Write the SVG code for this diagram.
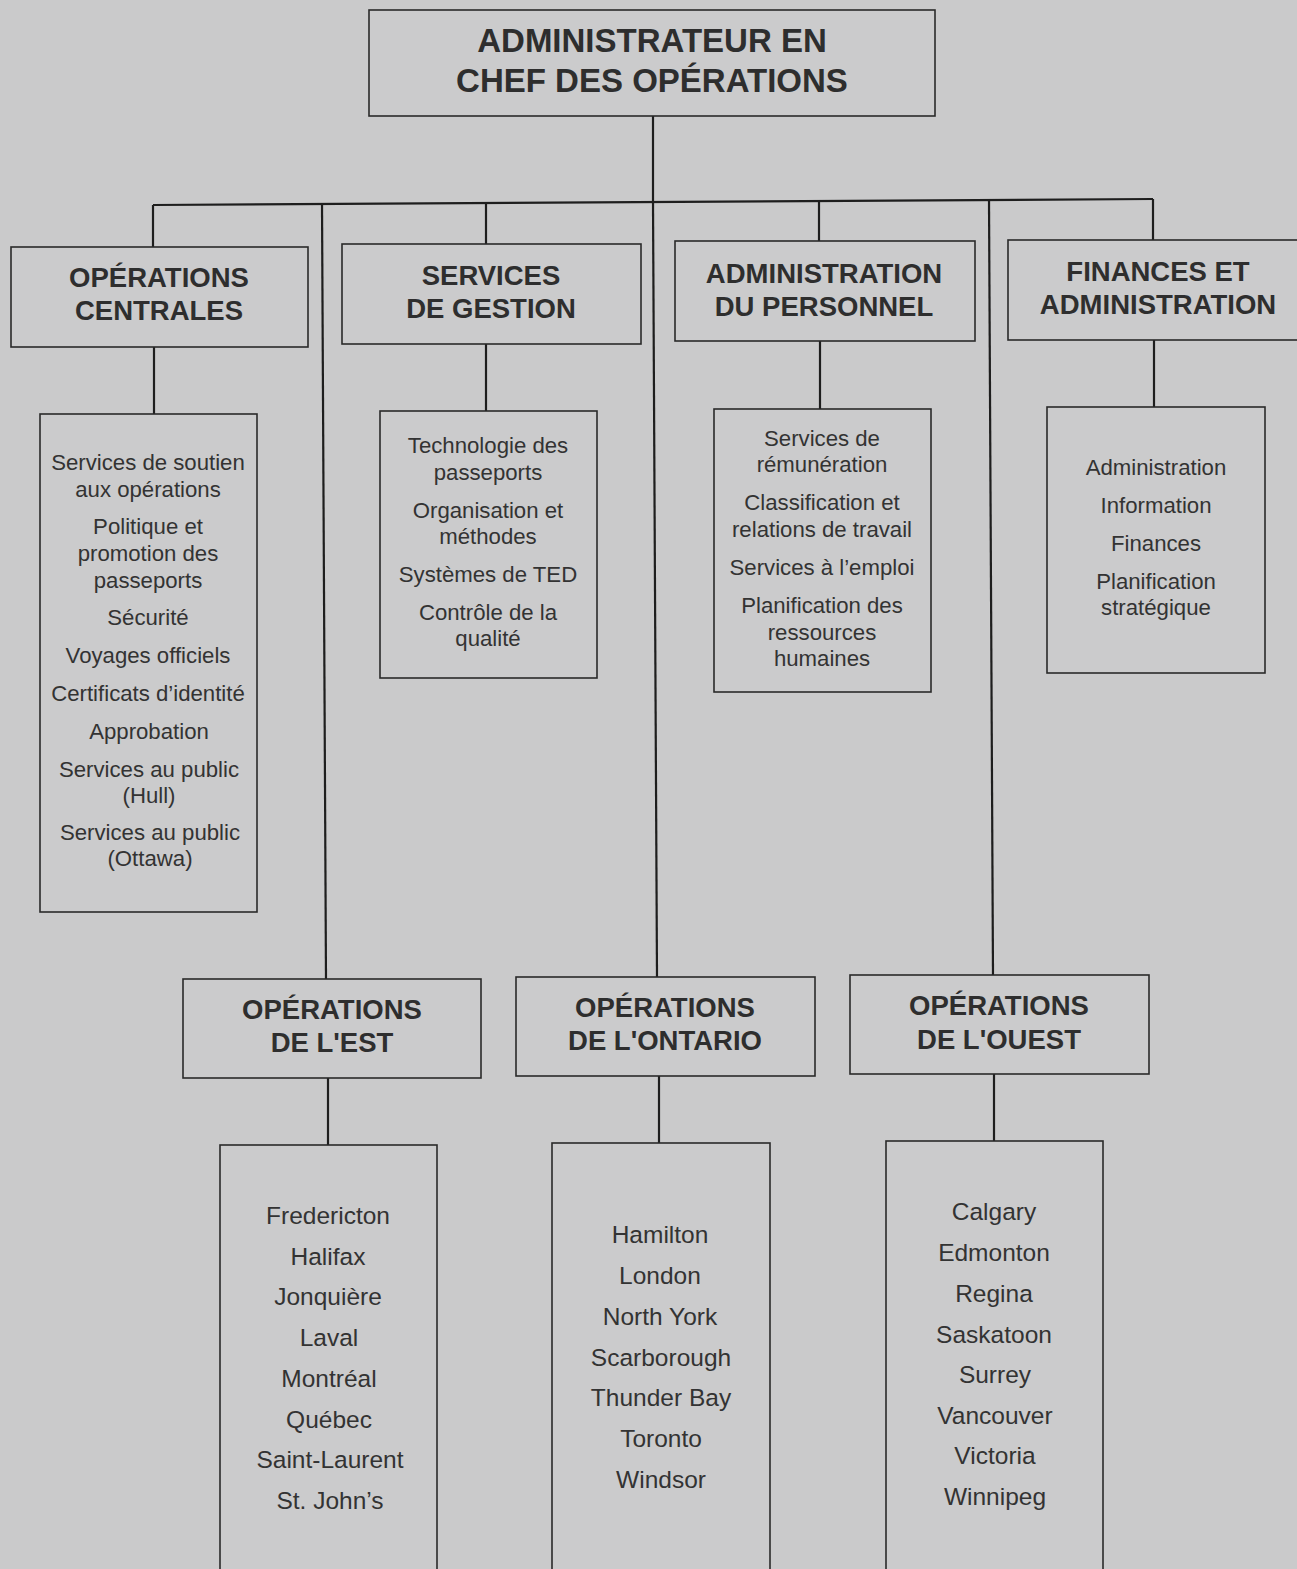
<svg xmlns="http://www.w3.org/2000/svg" width="1297" height="1569" viewBox="0 0 1297 1569">
<style>
.bg{fill:#cacacb}
.box{fill:#cbcbcc;stroke:#2a2a2a;stroke-width:1.6}
.ln{stroke:#1e1e1e;stroke-width:2.2;fill:none}
.h{font-family:"Liberation Sans",Arial,sans-serif;font-weight:bold;font-size:27.5px;fill:#2e2e2e;text-anchor:middle}
.ht{font-family:"Liberation Sans",Arial,sans-serif;font-weight:bold;font-size:33px;fill:#2e2e2e;text-anchor:middle}
.t{font-family:"Liberation Sans",Arial,sans-serif;font-size:22.2px;fill:#333;text-anchor:middle}
.c{font-family:"Liberation Sans",Arial,sans-serif;font-size:24.5px;fill:#333;text-anchor:middle}
</style>
<rect class="bg" x="0" y="0" width="1297" height="1569"/>
<g id="connectors">
<line class="ln" x1="653" y1="116" x2="653" y2="202"/>
<line class="ln" x1="153" y1="205" x2="1153" y2="199"/>
<line class="ln" x1="153" y1="205" x2="153" y2="247"/>
<line class="ln" x1="486" y1="203" x2="486" y2="244"/>
<line class="ln" x1="819" y1="201" x2="819" y2="241"/>
<line class="ln" x1="1153" y1="199" x2="1153" y2="240"/>
<line class="ln" x1="322" y1="204" x2="326" y2="979"/>
<line class="ln" x1="653" y1="202" x2="657" y2="977"/>
<line class="ln" x1="989" y1="200" x2="993" y2="975"/>
<line class="ln" x1="154" y1="347" x2="154" y2="414"/>
<line class="ln" x1="486" y1="344" x2="486" y2="411"/>
<line class="ln" x1="820" y1="341" x2="820" y2="409"/>
<line class="ln" x1="1154" y1="340" x2="1154" y2="407"/>
<line class="ln" x1="328" y1="1078" x2="328" y2="1145"/>
<line class="ln" x1="659" y1="1076" x2="659" y2="1143"/>
<line class="ln" x1="994" y1="1074" x2="994" y2="1141"/>
</g>
<g id="chef">
<rect class="box" x="369" y="10" width="566" height="106"/>
<text class="ht" x="652" y="52">ADMINISTRATEUR EN</text>
<text class="ht" x="652" y="92">CHEF DES OPÉRATIONS</text>
</g>
<g id="op-centrales">
<rect class="box" x="11" y="247" width="297" height="100"/>
<text class="h" x="159" y="287">OPÉRATIONS</text>
<text class="h" x="159" y="320">CENTRALES</text>
</g>
<g id="services-gestion">
<rect class="box" x="342" y="244" width="299" height="100"/>
<text class="h" x="491" y="285">SERVICES</text>
<text class="h" x="491" y="318">DE GESTION</text>
</g>
<g id="admin-personnel">
<rect class="box" x="675" y="241" width="300" height="100"/>
<text class="h" x="824" y="283">ADMINISTRATION</text>
<text class="h" x="824" y="316">DU PERSONNEL</text>
</g>
<g id="finances-admin">
<rect class="box" x="1008" y="240" width="292" height="100"/>
<text class="h" x="1158" y="281">FINANCES ET</text>
<text class="h" x="1158" y="314">ADMINISTRATION</text>
</g>
<g id="list-centrales">
<rect class="box" x="40" y="414" width="217" height="498"/>
<text class="t" x="148" y="470">Services de soutien</text>
<text class="t" x="148" y="497">aux opérations</text>
<text class="t" x="148" y="534">Politique et</text>
<text class="t" x="148" y="561">promotion des</text>
<text class="t" x="148" y="588">passeports</text>
<text class="t" x="148" y="625">Sécurité</text>
<text class="t" x="148" y="663">Voyages officiels</text>
<text class="t" x="148" y="701">Certificats d’identité</text>
<text class="t" x="149" y="739">Approbation</text>
<text class="t" x="149" y="777">Services au public</text>
<text class="t" x="149" y="803">(Hull)</text>
<text class="t" x="150" y="840">Services au public</text>
<text class="t" x="150" y="866">(Ottawa)</text>
</g>
<g id="list-gestion">
<rect class="box" x="380" y="411" width="217" height="267"/>
<text class="t" x="488" y="453">Technologie des</text>
<text class="t" x="488" y="480">passeports</text>
<text class="t" x="488" y="518">Organisation et</text>
<text class="t" x="488" y="544">méthodes</text>
<text class="t" x="488" y="582">Systèmes de TED</text>
<text class="t" x="488" y="620">Contrôle de la</text>
<text class="t" x="488" y="646">qualité</text>
</g>
<g id="list-personnel">
<rect class="box" x="714" y="409" width="217" height="283"/>
<text class="t" x="822" y="446">Services de</text>
<text class="t" x="822" y="472">rémunération</text>
<text class="t" x="822" y="510">Classification et</text>
<text class="t" x="822" y="537">relations de travail</text>
<text class="t" x="822" y="575">Services à l’emploi</text>
<text class="t" x="822" y="613">Planification des</text>
<text class="t" x="822" y="640">ressources</text>
<text class="t" x="822" y="666">humaines</text>
</g>
<g id="list-finances">
<rect class="box" x="1047" y="407" width="218" height="266"/>
<text class="t" x="1156" y="475">Administration</text>
<text class="t" x="1156" y="513">Information</text>
<text class="t" x="1156" y="551">Finances</text>
<text class="t" x="1156" y="589">Planification</text>
<text class="t" x="1156" y="615">stratégique</text>
</g>
<g id="op-est">
<rect class="box" x="183" y="979" width="298" height="99"/>
<text class="h" x="332" y="1019">OPÉRATIONS</text>
<text class="h" x="332" y="1052">DE L'EST</text>
</g>
<g id="op-ontario">
<rect class="box" x="516" y="977" width="299" height="99"/>
<text class="h" x="665" y="1017">OPÉRATIONS</text>
<text class="h" x="665" y="1050">DE L'ONTARIO</text>
</g>
<g id="op-ouest">
<rect class="box" x="850" y="975" width="299" height="99"/>
<text class="h" x="999" y="1015">OPÉRATIONS</text>
<text class="h" x="999" y="1049">DE L'OUEST</text>
</g>
<g id="list-est">
<rect class="box" x="220" y="1145" width="217" height="440"/>
<text class="c" x="328" y="1224">Fredericton</text>
<text class="c" x="328" y="1265">Halifax</text>
<text class="c" x="328" y="1305">Jonquière</text>
<text class="c" x="329" y="1346">Laval</text>
<text class="c" x="329" y="1387">Montréal</text>
<text class="c" x="329" y="1428">Québec</text>
<text class="c" x="330" y="1468">Saint-Laurent</text>
<text class="c" x="330" y="1509">St. John’s</text>
</g>
<g id="list-ontario">
<rect class="box" x="552" y="1143" width="218" height="440"/>
<text class="c" x="660" y="1243">Hamilton</text>
<text class="c" x="660" y="1284">London</text>
<text class="c" x="660" y="1325">North York</text>
<text class="c" x="661" y="1366">Scarborough</text>
<text class="c" x="661" y="1406">Thunder Bay</text>
<text class="c" x="661" y="1447">Toronto</text>
<text class="c" x="661" y="1488">Windsor</text>
</g>
<g id="list-ouest">
<rect class="box" x="886" y="1141" width="217" height="440"/>
<text class="c" x="994" y="1220">Calgary</text>
<text class="c" x="994" y="1261">Edmonton</text>
<text class="c" x="994" y="1302">Regina</text>
<text class="c" x="994" y="1343">Saskatoon</text>
<text class="c" x="995" y="1383">Surrey</text>
<text class="c" x="995" y="1424">Vancouver</text>
<text class="c" x="995" y="1464">Victoria</text>
<text class="c" x="995" y="1505">Winnipeg</text>
</g>
</svg>
